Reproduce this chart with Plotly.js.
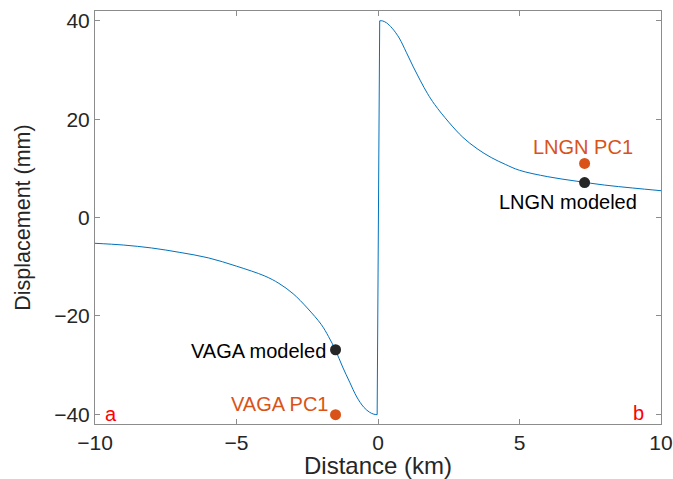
<!DOCTYPE html>
<html>
<head>
<meta charset="utf-8">
<script src="https://cdn.plot.ly/plotly-3.0.1.min.js"></script>
<style>html,body{margin:0;padding:0;background:#fff;}#chart{width:673px;height:479px;}</style>
</head>
<body>
<div id="chart"></div>
<script>
// Modeled displacement profile (km, mm)
const profileX = [-10, -9, -8, -7, -6, -5, -4, -3.5, -3, -2.5, -2, -1.75, -1.5, -1.25, -1, -0.75, -0.5, -0.3, -0.15, -0.03,
                  0.06, 0.15, 0.3, 0.5, 0.75, 1.0, 1.25, 1.5, 1.75, 2.0, 2.5, 3.0, 3.5, 4.0, 4.5, 5.0, 6.0, 7.0, 8.0, 9.0, 10];
const profileY = [-5.25, -5.6, -6.2, -7.1, -8.2, -9.9, -11.9, -13.4, -15.5, -18.4, -21.8, -24.2, -27.0, -30.4, -33.5, -36.5, -38.6, -39.6, -40.0, -40.1,
                  40.0, 40.0, 39.6, 38.5, 36.5, 33.6, 30.6, 27.8, 25.2, 23.0, 19.4, 16.3, 14.0, 12.2, 10.8, 9.6, 8.3, 7.4, 6.6, 6.0, 5.45];

// Stations
const modeledNames = ["VAGA modeled", "LNGN modeled"];
const modeledX = [-1.5, 7.3];
const modeledY = [-26.9, 7.1];
const pc1Names = ["VAGA PC1", "LNGN PC1"];
const pc1X = [-1.5, 7.3];
const pc1Y = [-40.1, 11.0];

// Axis ticks
const xTicks = [-10, -5, 0, 5, 10];
const yTicks = [-40, -20, 0, 20, 40];

const FONT = "Liberation Sans, Arial, Helvetica, sans-serif";
const ORANGE = "#D95319";
const DARK = "#262626";
const BLUE = "#0072BD";

// the profile has a step at the fault: draw each branch smoothly, and the step straight
const jump = profileX.findIndex(v => v > 0);
const lineStyle = {color: BLUE, width: 1, shape: "spline", smoothing: 1};
const traces = [
  {x: profileX.slice(0, jump), y: profileY.slice(0, jump), mode: "lines", line: lineStyle, hoverinfo: "skip"},
  {x: profileX.slice(jump - 1, jump + 1), y: profileY.slice(jump - 1, jump + 1), mode: "lines", line: {color: BLUE, width: 1}, hoverinfo: "skip"},
  {x: profileX.slice(jump), y: profileY.slice(jump), mode: "lines", line: lineStyle, hoverinfo: "skip"},
  {x: modeledX, y: modeledY, mode: "markers", marker: {color: DARK, size: 11}},
  {x: pc1X, y: pc1Y, mode: "markers", marker: {color: ORANGE, size: 11}}
];

const annotations = [
  {x: modeledX[0], y: modeledY[0], text: modeledNames[0], xanchor: "right", yanchor: "middle", xshift: -8, yshift: -1, font: {color: "#000", size: 20}},
  {x: modeledX[1], y: modeledY[1], text: modeledNames[1], xanchor: "center", yanchor: "middle", xshift: -17, yshift: -19, font: {color: "#000", size: 20}},
  {x: pc1X[0], y: pc1Y[0], text: pc1Names[0], xanchor: "right", yanchor: "middle", xshift: -6, yshift: 11, font: {color: ORANGE, size: 20}},
  {x: pc1X[1], y: pc1Y[1], text: pc1Names[1], xanchor: "center", yanchor: "middle", xshift: -2, yshift: 16, font: {color: ORANGE, size: 20}},
  {x: xTicks[0], y: yTicks[0], text: "a", xanchor: "left", yanchor: "middle", xshift: 8, yshift: 0, font: {color: "#FF0000", size: 20}},
  {x: xTicks[4], y: yTicks[0], text: "b", xanchor: "right", yanchor: "middle", xshift: -15, yshift: 1, font: {color: "#FF0000", size: 20}}
].map(a => Object.assign({xref: "x", yref: "y", showarrow: false}, a));

const axisCommon = {
  showgrid: false, zeroline: false, showline: true, linecolor: "#8c8c8c", linewidth: 1,
  mirror: "allticks", ticks: "inside", ticklen: 5, tickwidth: 1, tickcolor: "#8c8c8c",
  tickfont: {family: FONT, size: 21, color: DARK}, automargin: false
};

const layout = {
  width: 673, height: 479,
  margin: {l: 95, r: 12, t: 11, b: 55},
  paper_bgcolor: "#fff", plot_bgcolor: "#fff",
  showlegend: false,
  font: {family: FONT, color: DARK},
  xaxis: Object.assign({}, axisCommon, {
    range: [-10, 10], tickvals: xTicks, ticktext: xTicks.map(v => v < 0 ? "\u2212" + Math.abs(v) : String(v)),
    title: {text: "Distance (km)", font: {family: FONT, size: 24, color: DARK}, standoff: 6}
  }),
  yaxis: Object.assign({}, axisCommon, {
    range: [-42, 42], tickvals: yTicks, ticktext: yTicks.map(v => v < 0 ? "\u2212" + Math.abs(v) : String(v)),
    title: {text: "Displacement (mm)", font: {family: FONT, size: 21.5, color: DARK}, standoff: 17}
  }),
  annotations: annotations
};

Plotly.newPlot("chart", traces, layout, {displayModeBar: false, staticPlot: true});
</script>
</body>
</html>
